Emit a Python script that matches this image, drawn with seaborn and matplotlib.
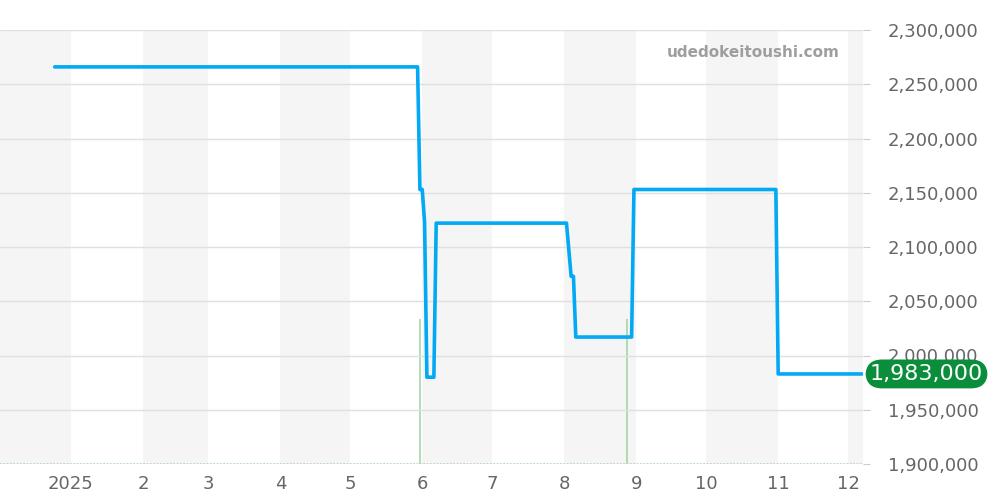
import matplotlib
matplotlib.use('Agg')
import matplotlib.pyplot as plt
import matplotlib.dates as mdates
import matplotlib.transforms as mtransforms
from matplotlib.ticker import FuncFormatter
import pandas as pd
import seaborn as sns

# price history (yen)
dates = ["2024-12-25", "2025-05-30", "2025-05-31", "2025-06-01", "2025-06-02",
         "2025-06-03", "2025-06-06", "2025-06-07", "2025-08-02", "2025-08-04",
         "2025-08-05", "2025-08-06", "2025-08-30", "2025-08-31", "2025-10-31",
         "2025-11-01", "2025-12-07"]
prices = [2266000, 2266000, 2153000, 2153000, 2123000,
          1980000, 1980000, 2122000, 2122000, 2073000,
          2073000, 2017000, 2017000, 2153000, 2153000,
          1983000, 1983000]

# volume spikes
vol_dates = ["2025-05-31", "2025-08-28"]
vol_values = [1, 1]

y_ticks = [1900000, 1950000, 2000000, 2050000, 2100000, 2150000, 2200000, 2250000, 2300000]
x_start = "2024-12-01 12:00"
x_end = "2025-12-07 11:00"
last_price = prices[-1]

df = pd.DataFrame({"date": pd.to_datetime(dates), "price": prices})
vol = pd.DataFrame({"date": pd.to_datetime(vol_dates), "vol": vol_values})

sns.set_style("white")
plt.rcParams['font.family'] = ['DejaVu Sans']

fig = plt.figure(figsize=(10, 5), dpi=100)
rect = [0, 0.072, 0.863, 0.868]
axv = fig.add_axes(rect)
ax = fig.add_axes(rect, sharex=axv)
ax.patch.set_visible(False)

x0, x1 = pd.Timestamp(x_start), pd.Timestamp(x_end)

# alternating month bands
months = pd.date_range("2024-12-01", "2026-01-01", freq="MS")
for i in range(len(months) - 1):
    if i % 2 == 0:
        axv.axvspan(months[i], months[i + 1], color="#f5f5f5", lw=0, zorder=0)

# volume bars
axv.vlines(vol["date"], 0, vol["vol"], color="#a5d6a7", lw=1.2, zorder=2)
axv.axhline(0, color="#a5d6a7", lw=1.2, ls=(0, (1, 1)), zorder=2)
axv.set_ylim(0, 3.0)
axv.set_yticks([])
for s in axv.spines.values():
    s.set_visible(False)
axv.tick_params(axis="x", which="both", bottom=False, labelbottom=False)

# price line
sns.lineplot(data=df, x="date", y="price", ax=ax, color="#03a9f4", lw=2.6, zorder=5)

ax.set_xlim(x0, x1)
ax.set_ylim(y_ticks[0], y_ticks[-1])
ax.set_yticks(y_ticks)
ax.yaxis.tick_right()
ax.yaxis.set_major_formatter(FuncFormatter(lambda v, p: f"{int(v):,}"))
ax.yaxis.grid(True, color="#e0e0e0", lw=1)
ax.xaxis.grid(False)
ax.set_axisbelow(True)
ax.set_xlabel("")
ax.set_ylabel("")
for s in ax.spines.values():
    s.set_visible(False)

ax.xaxis.set_major_locator(mdates.MonthLocator())
ax.xaxis.set_major_formatter(FuncFormatter(
    lambda v, p: str(mdates.num2date(v).year) if mdates.num2date(v).month == 1
    else str(mdates.num2date(v).month)))
ax.tick_params(axis="x", length=4, color="#cccccc", labelcolor="#666666", labelsize=13, pad=4)
ax.tick_params(axis="y", length=5, color="#cccccc", labelcolor="#666666", labelsize=13, pad=13)

# watermark
ax.text(0.973, 0.949, "udedokeitoushi.com", transform=ax.transAxes, ha="right", va="center",
        fontsize=11, fontweight="bold", color="#9e9e9e")

# last price label
trans = mtransforms.blended_transform_factory(ax.transAxes, ax.transData)
ax.text(1.008, last_price, f"{last_price:,}", transform=trans, ha="left", va="center",
        fontsize=16, color="white", zorder=10, clip_on=False,
        bbox=dict(boxstyle="round,pad=0.2,rounding_size=0.75", fc="#0b8e3b", ec="none"))

fig.savefig("out.png", dpi=100)
plt.close(fig)
